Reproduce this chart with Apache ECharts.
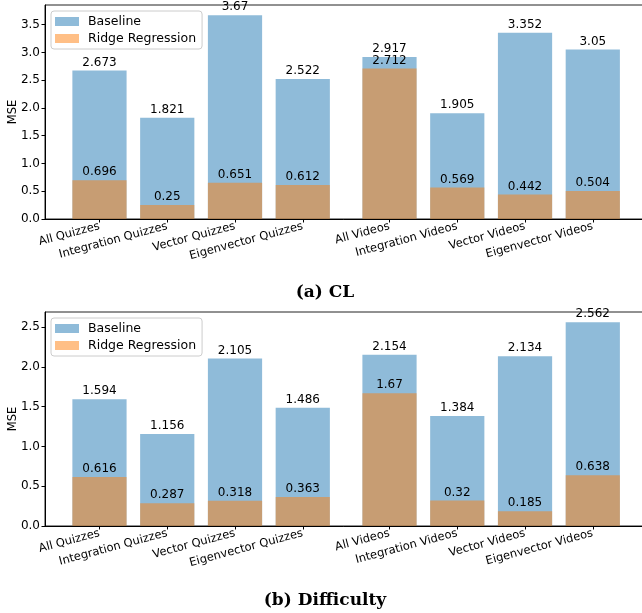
<!DOCTYPE html>
<html>
<head>
<meta charset="utf-8">
<script src="https://cdn.jsdelivr.net/npm/echarts@6/dist/echarts.min.js"></script>
<style>
html,body{margin:0;padding:0;background:#fff;}
#chart{width:642px;height:613px;}
</style>
</head>
<body>
<div id="chart"></div>
<script>
const categories = ['All Quizzes','Integration Quizzes','Vector Quizzes','Eigenvector Quizzes','All Videos','Integration Videos','Vector Videos','Eigenvector Videos'];
const positions = [0, 1, 2, 3, 4.28, 5.28, 6.28, 7.28];
const baselineCL = [2.673, 1.821, 3.67, 2.522, 2.917, 1.905, 3.352, 3.05];
const ridgeCL = [0.696, 0.25, 0.651, 0.612, 2.712, 0.569, 0.442, 0.504];
const baselineDiff = [1.594, 1.156, 2.105, 1.486, 2.154, 1.384, 2.134, 2.562];
const ridgeDiff = [0.616, 0.287, 0.318, 0.363, 1.67, 0.32, 0.185, 0.638];
const yTicksCL = [0, 0.5, 1.0, 1.5, 2.0, 2.5, 3.0, 3.5];
const yTicksDiff = [0, 0.5, 1.0, 1.5, 2.0, 2.5];
const seriesNames = ['Baseline', 'Ridge Regression'];
const captions = ['(a) CL', '(b) Difficulty'];

const FONT = 'DejaVu Sans';
const blue = 'rgba(31,119,180,0.5)';
const orange = 'rgba(255,127,14,0.5)';
const BAR_W = 0.8;

const chart = echarts.init(document.getElementById('chart'), null, {renderer: 'canvas'});

function pairs(vals) { return vals.map((v, i) => [positions[i], v]); }

function xAxis(gi) {
  return {
    type: 'value', gridIndex: gi, min: -0.804, max: 8.08,
    splitLine: {show: false},
    axisLine: {show: true, onZero: false, lineStyle: {color: '#000', width: 1}},
    axisTick: {show: true, length: 3.5, customValues: positions, lineStyle: {color: '#000'}},
    axisLabel: {
      customValues: positions, rotate: 15, margin: 7,
      fontFamily: FONT, fontSize: 11.5, color: '#000',
      formatter: v => { const i = positions.findIndex(p => Math.abs(p - v) < 1e-6); return i >= 0 ? categories[i] : ''; }
    }
  };
}
function yAxis(gi, ticks, max) {
  return {
    type: 'value', gridIndex: gi, min: 0, max: max,
    name: 'MSE', nameLocation: 'middle', nameGap: 26, nameMoveOverlap: false,
    nameTextStyle: {fontFamily: FONT, fontSize: 11.5, color: '#000'},
    splitLine: {show: false},
    axisLine: {show: true, onZero: false, lineStyle: {color: '#000', width: 1}},
    axisTick: {show: true, length: 3.5, customValues: ticks, lineStyle: {color: '#000'}},
    axisLabel: {customValues: ticks, margin: 5, fontFamily: FONT, fontSize: 12, color: '#000',
      formatter: v => v.toFixed(1)}
  };
}
function barSeries(name, color, vals, gi) {
  return {
    type: 'custom', name: name, xAxisIndex: gi, yAxisIndex: gi,
    data: pairs(vals), itemStyle: {color: color},
    encode: {x: 0, y: 1},
    renderItem: (params, api) => {
      const x = api.value(0), y = api.value(1);
      const p0 = api.coord([x - BAR_W / 2, 0]);
      const p1 = api.coord([x + BAR_W / 2, y]);
      const top = api.coord([x, y]);
      return {
        type: 'group',
        children: [
          {type: 'rect', shape: {x: p0[0], y: p1[1], width: p1[0] - p0[0], height: p0[1] - p1[1]},
            style: {fill: color}},
          {type: 'text', x: top[0], y: top[1] - 2, z2: 10,
            style: {text: String(y), align: 'center', verticalAlign: 'bottom',
              font: '12px "' + FONT + '"', fill: '#000'}}
        ]
      };
    },
    clip: false,
    animation: false
  };
}
function legend(top) {
  return {
    left: 51, top: top, orient: 'vertical', data: seriesNames.map(n => ({name: n, icon: 'rect', itemStyle: {color: n === seriesNames[0] ? blue : orange}})),
    itemWidth: 24, itemHeight: 9, itemGap: 4,
    padding: [4, 6, 4, 4],
    backgroundColor: 'rgba(255,255,255,0.8)', borderColor: '#ccc', borderWidth: 1, borderRadius: 3,
    textStyle: {fontFamily: FONT, fontSize: 12.5, color: '#000', padding: [0, 0, 0, 4]},
    selectedMode: false
  };
}

const gridBase = {show: true, borderColor: '#222', borderWidth: 1, backgroundColor: 'transparent', containLabel: false, outerBoundsMode: 'none'};
const option = {
  animation: false,
  grid: [
    Object.assign({left: 45, top: 5, width: 602, height: 214}, gridBase),
    Object.assign({left: 45, top: 312, width: 602, height: 214}, gridBase)
  ],
  xAxis: [xAxis(0), xAxis(1)],
  yAxis: [yAxis(0, yTicksCL, 3.67 * 1.05), yAxis(1, yTicksDiff, 2.562 * 1.05)],
  legend: [legend(11), legend(318)],
  series: [
    barSeries(seriesNames[0], blue, baselineCL, 0),
    barSeries(seriesNames[1], orange, ridgeCL, 0),
    barSeries(seriesNames[0], blue, baselineDiff, 1),
    barSeries(seriesNames[1], orange, ridgeDiff, 1)
  ],
  graphic: [
    {type: 'text', x: 325, y: 284, style: {text: captions[0], align: 'center', font: 'bold 17px "DejaVu Serif"', fill: '#000'}},
    {type: 'text', x: 325, y: 592, style: {text: captions[1], align: 'center', font: 'bold 17px "DejaVu Serif"', fill: '#000'}}
  ]
};
chart.setOption(option);
</script>
</body>
</html>
